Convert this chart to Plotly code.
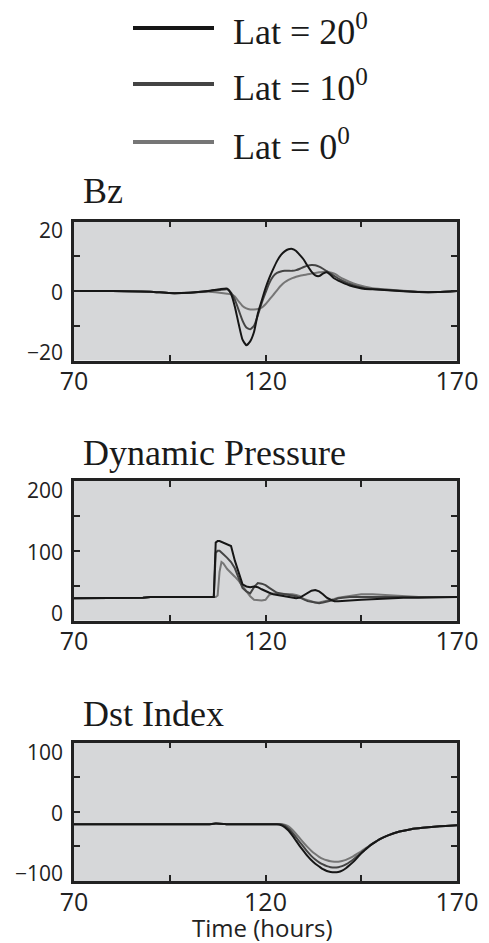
import plotly.graph_objects as go
from plotly.subplots import make_subplots

# ---------------- data ----------------
series_names = ["Lat = 20<sup>0</sup>", "Lat = 10<sup>0</sup>", "Lat = 0<sup>0</sup>"]
series_colors = ["#161616", "#444444", "#767676"]
panel_titles = ["Bz", "Dynamic Pressure", "Dst Index"]

x_tickvals = [70, 95, 120, 145, 170]
x_ticktext = ["70", "", "120", "", "170"]

# Bz
t_bz = [70, 80, 90, 95, 100, 105, 108, 110, 111, 112, 113, 114, 115, 116, 117, 118, 119,
        120, 121, 122, 123, 124, 125, 126, 127, 128, 129, 130, 131, 132, 133, 134, 135,
        136, 137, 138, 139, 140, 142, 144, 146, 148, 152, 156, 160, 165, 170]
bz_20 = [0, 0, -0.2, -0.6, -0.5, 0, 0.5, 0.7, -0.8, -4.5, -9.5, -14.0, -15.6, -14.5, -11.8,
         -6.5, -2.8, 0.8, 3.8, 6.3, 8.6, 10.3, 11.4, 12.0, 12.1, 11.5, 10.3, 9.0, 7.2, 5.6,
         4.5, 4.3, 5.0, 5.4, 4.6, 3.6, 3.0, 2.5, 1.6, 1.0, 0.6, 0.5, 0.2, -0.1, -0.3, -0.3, 0]
bz_10 = [0, 0, -0.2, -0.6, -0.5, 0, 0.3, 0.5, -0.5, -2.5, -5.5, -8.5, -10.5, -11.0, -10.0,
         -7.0, -3.5, -0.5, 2.3, 4.2, 5.2, 5.6, 5.8, 5.8, 5.8, 6.0, 6.4, 6.9, 7.3, 7.5, 7.4,
         7.0, 6.4, 5.7, 5.0, 4.3, 3.6, 3.0, 2.0, 1.3, 0.8, 0.6, 0.3, 0, -0.3, -0.3, 0]
bz_0 = [0, 0, -0.2, -0.6, -0.5, -0.2, -0.5, -0.8, -1.0, -1.6, -3.0, -4.3, -5.0, -5.3, -5.3,
        -5.2, -4.8, -3.8, -2.5, -1.2, 0.2, 1.5, 2.5, 3.2, 3.7, 4.1, 4.4, 4.6, 4.8, 5.0, 5.2,
        5.4, 5.5, 5.5, 5.3, 5.0, 4.3, 3.6, 2.6, 1.8, 1.2, 0.8, 0.4, 0.1, -0.2, -0.3, 0]

# Dynamic pressure
t_dp = [70, 80, 85, 88, 90, 95, 100, 105, 106.5, 107, 107.5, 108, 108.5, 109, 110, 111, 112,
        113, 114, 115, 116, 117, 118, 119, 120, 121, 122, 123, 124, 125, 126, 127, 128, 129,
        130, 131, 132, 133, 134, 135, 136, 137, 138, 139, 140, 142, 145, 148, 152, 156, 160,
        165, 170]
dp_20 = [32, 32, 32, 33, 34, 34, 34, 34, 34, 112, 114, 114, 113, 112, 109, 107, 86, 70, 52,
         49, 48, 49, 48, 45, 42, 40, 38, 37, 36, 35, 34, 33, 32, 33, 36, 40, 43, 44, 42, 38,
         33, 30, 28, 28, 28, 29, 30, 31, 32, 33, 33, 34, 34]
dp_10 = [32, 32, 32, 33, 34, 34, 34, 34, 34, 97, 100, 100, 98, 95, 90, 84, 75, 60, 47, 42,
         39, 48, 54, 53, 51, 47, 43, 40, 39, 38, 38, 37, 35, 33, 30, 28, 27, 26, 25, 26, 27,
         28, 30, 32, 33, 34, 34, 34, 34, 34, 34, 34, 34]
dp_0 = [32, 32, 32, 33, 34, 34, 34, 34, 34, 34, 36, 70, 84, 82, 74, 69, 63, 57, 50, 43, 35,
        30, 29, 29, 30, 37, 39, 39, 39, 39, 38, 38, 37, 35, 31, 29, 27, 26, 26, 27, 28, 30,
        31, 33, 34, 36, 38, 38, 37, 35, 34, 34, 34]

# Dst index
t_dst = [70, 80, 90, 100, 105, 107, 109, 110, 115, 120, 122, 123, 124, 125, 126, 127, 128,
         129, 130, 131, 132, 133, 134, 135, 136, 137, 138, 139, 140, 141, 142, 143, 144, 145,
         146, 147, 148, 150, 152, 155, 158, 161, 164, 167, 170]
dst_20 = [-18, -18, -18, -18, -18, -17, -17.5, -18, -18, -18, -18, -18, -19, -22, -27, -34,
          -42, -50, -57, -64, -70, -75, -79, -83, -85.5, -87, -87.5, -87, -85, -81.5, -77,
          -72, -66, -60, -55, -50, -46, -39, -34, -28.5, -25, -23, -21.5, -20.5, -19.5]
dst_10 = [-18, -18, -18, -18, -18, -17, -17.5, -18, -18, -18, -18, -18, -18, -20, -24, -30,
          -37, -44, -51, -58, -64, -69, -73, -76, -78.5, -80, -80.5, -80, -78.5, -76, -72.5,
          -68.5, -64, -59, -54.5, -50, -46, -39, -34, -28.5, -25, -23, -21.5, -20.5, -19.5]
dst_0 = [-18, -18, -18, -18, -18, -17, -17.5, -18, -18, -18, -18, -18, -18, -18.5, -21, -26,
         -32, -38.5, -45, -51, -56.5, -61, -65, -68, -70, -71.5, -72, -72, -71, -69.5, -67,
         -64, -60.5, -57, -53, -49.5, -45.5, -39, -34, -28.5, -25, -23, -21.5, -20.5, -19.5]

y_ranges = [[-20, 20], [0, 200], [-100, 100]]
y_tickvals = [[-20, -10, 0, 10, 20], [0, 50, 100, 150, 200], [-100, -50, 0, 50, 100]]
y_labelvals = [[-20, 0, 20], [0, 100, 200], [-100, 0, 100]]
y_labeltext = [["\u221220", "0", "20"], ["0", "100", "200"], ["\u2212100", "0", "100"]]

panels = [
    (t_bz, [bz_20, bz_10, bz_0], "spline"),
    (t_dp, [dp_20, dp_10, dp_0], "linear"),
    (t_dst, [dst_20, dst_10, dst_0], "spline"),
]

# ---------------- figure ----------------
W, H = 489, 943
fig = make_subplots(rows=3, cols=1)

for r, (tt, ys, shape) in enumerate(panels, start=1):
    # draw lightest first so darkest on top
    for k in [2, 1, 0]:
        fig.add_trace(go.Scatter(
            x=tt, y=ys[k], mode="lines",
            line=dict(color=series_colors[k], width=2, shape=shape, smoothing=0.5),
            name=series_names[k], showlegend=False, hoverinfo="skip"), row=r, col=1)

x_dom = [74 / W, 457 / W]
y_doms = [[1 - 360.5 / H, 1 - 221.5 / H],
          [1 - 620.7 / H, 1 - 481 / H],
          [1 - 881 / H, 1 - 742.7 / H]]

tick_font_x = dict(family="Open Sans, sans-serif", size=25, color="#222222")
tick_font_y = dict(family="Open Sans, sans-serif", size=21, color="#222222")

for i in range(3):
    xa = "xaxis" if i == 0 else f"xaxis{i+1}"
    ya = "yaxis" if i == 0 else f"yaxis{i+1}"
    fig.layout[xa].update(
        domain=x_dom, range=[70, 170], tickvals=x_tickvals, ticktext=x_ticktext,
        ticks="inside", ticklen=6, tickwidth=2, tickcolor="#222222",
        showline=True, linewidth=2.5, linecolor="#222222", mirror="allticks",
        showgrid=False, zeroline=False, tickfont=tick_font_x, ticklabelstandoff=-3,
        automargin=False)
    fig.layout[ya].update(
        domain=y_doms[i], range=y_ranges[i], tickvals=y_tickvals[i],
        showticklabels=False,
        ticks="inside", ticklen=6, tickwidth=2, tickcolor="#222222",
        showline=True, linewidth=2.5, linecolor="#222222", mirror="allticks",
        showgrid=False, zeroline=False, automargin=False)

annotations = []

# y tick labels (bottom, middle, top), nudged inward at the ends as in the original
label_shift = [8, -1, -9]
for i in range(3):
    yref = "y" if i == 0 else f"y{i+1}"
    for j, (v, txt) in enumerate(zip(y_labelvals[i], y_labeltext[i])):
        annotations.append(dict(
            text=txt, xref="paper", yref=yref, x=65 / W, y=v, yshift=label_shift[j],
            xanchor="right", yanchor="middle", showarrow=False, font=tick_font_y))

title_y = [191, 453, 714]
for i, ttl in enumerate(panel_titles):
    annotations.append(dict(
        text=ttl, xref="paper", yref="paper", x=81 / W, y=1 - title_y[i] / H,
        xanchor="left", yanchor="middle", showarrow=False,
        font=dict(family="Liberation Serif, Times New Roman, serif", size=36, color="#1a1a1a")))

annotations.append(dict(
    text="Time (hours)", xref="paper", yref="paper", x=262 / W, y=1 - 927 / H,
    xanchor="center", yanchor="middle", showarrow=False,
    font=dict(family="Open Sans, sans-serif", size=24, color="#222222")))

# manual legend
shapes = []
legend_y = [28, 84, 142]
for k in range(3):
    shapes.append(dict(type="line", xref="paper", yref="paper",
                       x0=133 / W, x1=214 / W, y0=1 - legend_y[k] / H, y1=1 - legend_y[k] / H,
                       line=dict(color=series_colors[k], width=4)))
    annotations.append(dict(
        text=series_names[k], xref="paper", yref="paper", x=231 / W, y=1 - (legend_y[k] + 2) / H,
        xanchor="left", yanchor="middle", showarrow=False,
        font=dict(family="Liberation Serif, Times New Roman, serif", size=36, color="#1a1a1a")))

fig.update_layout(
    width=W, height=H, margin=dict(l=0, r=0, t=0, b=0, autoexpand=False),
    paper_bgcolor="white", plot_bgcolor="#d6d7d9",
    annotations=annotations, shapes=shapes, showlegend=False)

fig.write_html("out.html", config={"displayModeBar": False},
               post_script="document.body.style.margin='0';document.body.style.overflow='hidden';")
